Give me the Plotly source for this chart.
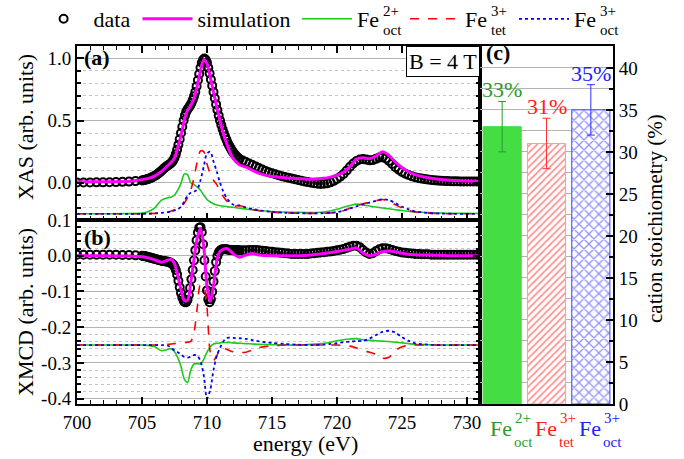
import plotly.graph_objects as go

# ---------------- data ----------------
E_data = [700, 700.5, 701, 701.5, 702, 702.5, 703, 703.5, 704, 704.5,
          705.0, 705.1, 705.2, 705.3, 705.4, 705.5, 705.6, 705.7, 705.8, 705.9,
          706.0, 706.1, 706.2, 706.3, 706.4, 706.5, 706.6, 706.7, 706.8, 706.9,
          707.0, 707.1, 707.2, 707.3, 707.4, 707.5, 707.6, 707.7, 707.8, 707.9,
          708.0, 708.1, 708.2, 708.3, 708.4, 708.5, 708.6, 708.7, 708.8, 708.9,
          709.0, 709.1, 709.2, 709.3, 709.4, 709.5, 709.6, 709.7, 709.8, 709.9,
          710.0, 710.1, 710.2, 710.3, 710.4, 710.5, 710.6, 710.7, 710.8, 710.9,
          711.0, 711.1, 711.2, 711.3, 711.4, 711.5, 711.6, 711.7, 711.8, 711.9,
          712.0, 712.1, 712.2, 712.3, 712.4, 712.5,
          712.75, 713, 713.25, 713.5, 713.75, 714, 714.25, 714.5, 714.75, 715,
          715.25, 715.5, 715.75, 716, 716.25, 716.5, 716.75, 717, 717.25, 717.5,
          717.75, 718, 718.25, 718.5, 718.75, 719, 719.25, 719.5, 719.75, 720,
          720.25, 720.5, 720.75, 721, 721.25, 721.5, 721.75, 722, 722.25, 722.5,
          722.75, 723, 723.25, 723.5, 723.75, 724, 724.25, 724.5, 724.75, 725,
          725.25, 725.5, 725.75, 726, 726.25, 726.5, 726.75, 727, 727.25, 727.5,
          727.75, 728, 728.25, 728.5, 728.75, 729, 729.25, 729.5, 729.75, 730,
          730.25, 730.5, 730.75, 731]

xas_data = [0.002, 0.002, 0.002, 0.003, 0.003, 0.004, 0.005, 0.007, 0.009, 0.013,
            0.018, 0.02, 0.022, 0.025, 0.028, 0.031, 0.035, 0.04, 0.045, 0.05,
            0.056, 0.063, 0.07, 0.078, 0.087, 0.096, 0.106, 0.116, 0.125, 0.133,
            0.14, 0.147, 0.155, 0.165, 0.18, 0.2, 0.23, 0.265, 0.305, 0.35,
            0.4, 0.45, 0.5, 0.54, 0.57, 0.59, 0.605, 0.62, 0.64, 0.665,
            0.695, 0.73, 0.775, 0.825, 0.875, 0.925, 0.965, 0.99, 1.0, 0.99,
            0.965, 0.925, 0.88, 0.83, 0.78, 0.73, 0.68, 0.63, 0.585, 0.54,
            0.5, 0.465, 0.43, 0.4, 0.37, 0.345, 0.32, 0.3, 0.28, 0.262,
            0.246, 0.232, 0.22, 0.209, 0.199, 0.19,
            0.178, 0.166, 0.154, 0.142, 0.13, 0.118, 0.106, 0.095, 0.085, 0.076,
            0.068, 0.06, 0.053, 0.046, 0.04, 0.034, 0.028, 0.022, 0.016, 0.01,
            0.005, 0.0, -0.004, -0.008, -0.01, -0.009, -0.005, 0.003, 0.015, 0.03,
            0.048, 0.07, 0.098, 0.128, 0.155, 0.175, 0.187, 0.19, 0.186, 0.18,
            0.182, 0.192, 0.202, 0.205, 0.195, 0.175, 0.15, 0.125, 0.104, 0.087,
            0.073, 0.062, 0.052, 0.044, 0.038, 0.033, 0.029, 0.025, 0.022, 0.019,
            0.017, 0.015, 0.014, 0.013, 0.012, 0.011, 0.011, 0.01, 0.01, 0.01,
            0.01, 0.01, 0.01, 0.01]

xmcd_data = [0.003, 0.003, 0.003, 0.003, 0.003, 0.003, 0.003, 0.002, 0.002, 0.001,
             0.0, -0.001, -0.001, -0.002, -0.003, -0.004, -0.005, -0.006, -0.007, -0.008,
             -0.009, -0.01, -0.011, -0.012, -0.013, -0.014, -0.015, -0.015, -0.016, -0.016,
             -0.017, -0.018, -0.02, -0.022, -0.025, -0.031, -0.04, -0.053, -0.07, -0.088,
             -0.104, -0.117, -0.126, -0.13, -0.13, -0.124, -0.11, -0.09, -0.066, -0.04,
             -0.013, 0.015, 0.043, 0.065, 0.078, 0.08, 0.066, 0.032, -0.013, -0.058,
             -0.097, -0.122, -0.13, -0.122, -0.101, -0.072, -0.043, -0.018, -0.001, 0.009,
             0.014, 0.017, 0.018, 0.018, 0.018, 0.018, 0.017, 0.017, 0.016, 0.016,
             0.015, 0.015, 0.015, 0.015, 0.015, 0.015,
             0.015, 0.015, 0.016, 0.016, 0.016, 0.015, 0.014, 0.013, 0.012, 0.011,
             0.01, 0.009, 0.008, 0.007, 0.006, 0.005, 0.005, 0.005, 0.005, 0.005,
             0.005, 0.006, 0.007, 0.008, 0.009, 0.01, 0.011, 0.012, 0.013, 0.015,
             0.017, 0.019, 0.022, 0.025, 0.028, 0.028, 0.024, 0.016, 0.009, 0.005,
             0.007, 0.013, 0.018, 0.021, 0.021, 0.019, 0.016, 0.013, 0.011, 0.009,
             0.008, 0.007, 0.006, 0.005, 0.005, 0.004, 0.004, 0.004, 0.003, 0.003,
             0.003, 0.003, 0.003, 0.003, 0.003, 0.003, 0.003, 0.003, 0.003, 0.003,
             0.003, 0.003, 0.003, 0.003]

E_fit = [700, 702, 704, 705, 705.5, 706, 706.5, 707, 707.25, 707.5, 707.75, 708,
         708.25, 708.5, 708.75, 709, 709.25, 709.5, 709.75, 710, 710.25, 710.5,
         710.75, 711, 711.25, 711.5, 711.75, 712, 712.5, 713, 713.5, 714, 715,
         716, 717, 718, 719, 719.5, 720, 720.5, 721, 721.5, 722, 722.5, 723,
         723.5, 724, 724.5, 725, 725.5, 726, 727, 728, 729, 730, 731]

xas_sim = [0.008, 0.008, 0.012, 0.025, 0.035, 0.055, 0.09, 0.14, 0.165, 0.2, 0.28, 0.38,
           0.5, 0.58, 0.62, 0.68, 0.78, 0.9, 0.99, 0.96, 0.85, 0.73,
           0.61, 0.5, 0.4, 0.32, 0.25, 0.195, 0.145, 0.125, 0.1, 0.075, 0.05,
           0.04, 0.033, 0.028, 0.035, 0.045, 0.06, 0.085, 0.13, 0.19, 0.2, 0.193, 0.215,
           0.25, 0.22, 0.165, 0.12, 0.088, 0.065, 0.04, 0.025, 0.018, 0.014, 0.012]

xas_fe2_oct = [0, 0, 0.001, 0.005, 0.018, 0.05, 0.11, 0.13, 0.135, 0.15, 0.19, 0.245,
               0.32, 0.315, 0.25, 0.235, 0.215, 0.19, 0.15, 0.115, 0.095, 0.08,
               0.07, 0.065, 0.062, 0.059, 0.055, 0.052, 0.045, 0.038, 0.032, 0.026, 0.018,
               0.014, 0.011, 0.01, 0.014, 0.022, 0.036, 0.052, 0.067, 0.078, 0.072, 0.062, 0.054,
               0.047, 0.04, 0.033, 0.026, 0.02, 0.015, 0.01, 0.006, 0.004, 0.003, 0.002]

xas_fe3_tet = [0, 0, 0, 0, 0.001, 0.003, 0.007, 0.013, 0.022, 0.03, 0.04, 0.055,
               0.085, 0.13, 0.19, 0.29, 0.42, 0.505, 0.5, 0.4, 0.32, 0.27,
               0.235, 0.19, 0.14, 0.105, 0.075, 0.06, 0.065, 0.05, 0.035, 0.025, 0.013,
               0.007, 0.004, 0.003, 0.004, 0.007, 0.013, 0.025, 0.045, 0.065, 0.08, 0.092, 0.105,
               0.115, 0.1, 0.072, 0.047, 0.028, 0.015, 0.005, 0.001, 0, 0, 0]

xas_fe3_oct = [0, 0, 0, 0, 0.001, 0.003, 0.007, 0.013, 0.02, 0.028, 0.037, 0.057,
               0.1, 0.145, 0.17, 0.178, 0.195, 0.27, 0.38, 0.485, 0.5, 0.42,
               0.34, 0.25, 0.18, 0.13, 0.095, 0.075, 0.067, 0.05, 0.038, 0.028, 0.015,
               0.008, 0.005, 0.004, 0.005, 0.008, 0.014, 0.026, 0.043, 0.06, 0.076, 0.09, 0.104,
               0.117, 0.11, 0.085, 0.057, 0.036, 0.02, 0.007, 0.002, 0, 0, 0]

xmcd_sim = [0.0, 0.0, -0.001, -0.003, -0.006, -0.012, -0.018, -0.012, -0.01, -0.022, -0.055, -0.095,
            -0.125, -0.125, -0.075, -0.01, 0.05, 0.077, 0.025, -0.085, -0.128, -0.085,
            -0.015, 0.012, 0.018, 0.02, 0.015, 0.006, -0.004, 0.002, 0.006, 0.002, 0.0,
            0.0, 0.0, 0.002, 0.006, 0.009, 0.012, 0.015, 0.018, 0.022, 0.008, 0.0, 0.004,
            0.011, 0.013, 0.011, 0.007, 0.004, 0.003, 0.002, 0.001, 0.0, 0.0, 0.0]

xmcd_fe2_oct = [0, 0, 0, 0, -0.001, -0.005, -0.016, -0.012, -0.01, -0.018, -0.035, -0.06,
                -0.095, -0.105, -0.07, -0.053, -0.052, -0.053, -0.04, -0.02, -0.005, 0.003,
                0.005, 0.006, 0.007, 0.007, 0.007, 0.006, 0.005, 0.004, 0.003, 0.002, 0.001,
                0, 0, 0.002, 0.005, 0.008, 0.012, 0.015, 0.017, 0.018, 0.015, 0.013, 0.012,
                0.011, 0.01, 0.008, 0.006, 0.004, 0.002, 0.001, 0, 0, 0, 0]

xmcd_fe3_tet = [0, 0, 0, 0, 0, 0, 0.001, 0.002, 0.003, 0.004, 0.005, 0.006,
                0.007, 0.008, 0.01, 0.035, 0.105, 0.17, 0.165, 0.105, -0.02, -0.043,
                -0.03, -0.012, -0.008, -0.012, -0.016, -0.019, -0.021, -0.02, -0.014, -0.007, -0.002,
                0, 0, 0, 0, 0, 0, -0.001, -0.003, -0.008, -0.016, -0.02, -0.026,
                -0.037, -0.034, -0.015, -0.005, -0.001, 0, 0, 0, 0, 0, 0]

xmcd_fe3_oct = [0, 0, 0, 0, 0, 0, 0, -0.002, -0.008, -0.015, -0.02, -0.027,
                -0.033, -0.035, -0.033, -0.028, -0.03, -0.045, -0.085, -0.15, -0.125, -0.07,
                -0.03, -0.008, 0.01, 0.02, 0.021, 0.02, 0.019, 0.017, 0.014, 0.01, 0.006,
                0.003, 0.001, 0, 0.001, 0.003, 0.005, 0.008, 0.01, 0.011, 0.012, 0.018, 0.028,
                0.037, 0.04, 0.035, 0.022, 0.012, 0.005, 0.001, 0, 0, 0, 0]

COMPONENT_OFFSET = -0.25

cations = ["Fe2+ oct", "Fe3+ tet", "Fe3+ oct"]
cation_base = ["Fe", "Fe", "Fe"]
cation_sup = ["2+", "3+", "3+"]
cation_sub = ["oct", "tet", "oct"]
stoich = [33, 31, 35]
stoich_err = [3, 3, 3]
stoich_text = ["33%", "31%", "35%"]

xas_ticks = [0.0, 0.5, 1.0]
xas_ticktext = ["0.0", "0.5", "1.0"]
xmcd_ticks = [-0.4, -0.3, -0.2, -0.1, 0.0, 0.1]
xmcd_ticktext = ["-0.4", "-0.3", "-0.2", "-0.1", "0.0", "0.1"]

# ---------------- layout geometry ----------------
W, H = 684, 459
ML, MR, MT, MB = 77, 71, 46, 55
PW, PH = W - ML - MR, H - MT - MB
XS = (480 - ML) / PW
YS = (404 - 220) / PH


def px2x(px):
    return (px - ML) / PW


def py2y(py):
    return (H - MB - py) / PH


FONT = "Liberation Serif, Times New Roman, Times, serif"
GREEN, RED, BLUE, MAG = "#1ec81e", "#ff0000", "#0000ff", "#ff00ff"
GRID = "#b4b4b4"
MINOR = "#c4c4c4"

fig = go.Figure()

comp_specs = [
    (xas_fe2_oct, xmcd_fe2_oct, GREEN, "solid", 1.6, "legend3"),
    (xas_fe3_tet, xmcd_fe3_tet, RED, "dash", 1.6, "legend4"),
    (xas_fe3_oct, xmcd_fe3_oct, BLUE, "dot", 1.8, "legend5"),
]

# data
for yv, xa, ya, show in [(xas_data, "x2", "y", True), (xmcd_data, "x", "y2", False)]:
    fig.add_trace(go.Scatter(
        x=E_data, y=yv, xaxis=xa, yaxis=ya, mode="markers", name="data",
        marker=dict(symbol="circle-open", size=8, color="black",
                    line=dict(width=2, color="black")),
        showlegend=show, legend="legend"))

# components
for xas_c, xmcd_c, col, dash, lw, lg in comp_specs:
    for yv, xa, ya, show in [(xas_c, "x2", "y", True), (xmcd_c, "x", "y2", False)]:
        fig.add_trace(go.Scatter(
            x=E_fit, y=[v + COMPONENT_OFFSET for v in yv], xaxis=xa, yaxis=ya,
            mode="lines", name="Fe", line=dict(color=col, width=lw, dash=dash, shape="spline",
                                                smoothing=0.8),
            showlegend=show, legend=lg))

# simulation
for yv, xa, ya, show in [(xas_sim, "x2", "y", True), (xmcd_sim, "x", "y2", False)]:
    fig.add_trace(go.Scatter(
        x=E_fit, y=yv, xaxis=xa, yaxis=ya, mode="lines", name="simulation",
        line=dict(color=MAG, width=3, shape="spline", smoothing=0.8),
        showlegend=show, legend="legend2"))

# bars (panel c)
bar_fill = ["#44dd44", "white", "white"]
bar_fg = ["#44dd44", "#ff2a2a", "#2a2aff"]
bar_line = ["#44dd44", "#ff9a9a", "#4040ff"]
bar_shape = ["", "/", "x"]
bar_psize = [0, 5, 7]
err_col = ["#2a9a2a", "#ff3030", "#3030ff"]
txt_col = ["#2a9a2a", "#ff2020", "#2020ff"]
for i, c in enumerate(cations):
    mk = dict(color=bar_fill[i], line=dict(color=bar_line[i], width=1))
    if bar_shape[i]:
        mk["pattern"] = dict(shape=bar_shape[i], fgcolor=bar_fg[i], bgcolor="white",
                             size=bar_psize[i], solidity=0.35)
    fig.add_trace(go.Bar(
        x=[c], y=[stoich[i]], xaxis="x3", yaxis="y3", width=0.86, marker=mk,
        error_y=dict(type="data", array=[stoich_err[i]], color=err_col[i],
                     thickness=1, width=4),
        showlegend=False))

axis_font = dict(family=FONT, size=19, color="black")
title_font = dict(family=FONT, size=22, color="black")

common_x = dict(range=[700, 731], tickmode="linear", tick0=700, dtick=5, ticks="inside",
                ticklen=7, tickwidth=1.5, tickcolor="black", showline=True, linecolor="black",
                linewidth=2, showgrid=False, zeroline=False,
                minor=dict(tickmode="linear", tick0=700, dtick=1, ticks="inside", ticklen=4,
                           tickwidth=1, tickcolor="black", showgrid=False),
                tickfont=axis_font, domain=[0, XS])

fig.update_layout(
    width=W, height=H, margin=dict(l=ML, r=MR, t=MT, b=MB, autoexpand=False),
    paper_bgcolor="white", plot_bgcolor="white",
    font=dict(family=FONT, size=19, color="black"),
    bargap=0.14,
    xaxis=dict(common_x, anchor="y2", mirror=True),
    xaxis2=dict(common_x, anchor="y", matches="x", showticklabels=False, mirror="allticks"),
    yaxis=dict(domain=[YS, 1], anchor="x2", range=[-0.3, 1.1], tickmode="array",
               tickvals=xas_ticks, ticktext=xas_ticktext, ticks="inside", ticklen=7,
               tickwidth=1.5, tickcolor="black", showline=True, linecolor="black", linewidth=2,
               mirror="allticks", showgrid=True, gridcolor=GRID, gridwidth=1, zeroline=False,
               minor=dict(tickmode="linear", tick0=0, dtick=0.1, ticks="inside", ticklen=4,
                          tickcolor="black", showgrid=True, gridcolor=MINOR, griddash="dot",
                          gridwidth=1),
               tickfont=axis_font),
    yaxis2=dict(domain=[0, YS], anchor="x", range=[-0.415, 0.1], tickmode="array",
                tickvals=xmcd_ticks, ticktext=xmcd_ticktext, ticks="inside", ticklen=7,
                tickwidth=1.5, tickcolor="black", showline=True, linecolor="black", linewidth=2,
                mirror="allticks", showgrid=True, gridcolor=GRID, gridwidth=1, zeroline=False,
                minor=dict(tickmode="linear", tick0=0, dtick=0.02, ticks="inside", ticklen=4,
                           tickcolor="black", showgrid=True, gridcolor=MINOR, griddash="dot",
                           gridwidth=1),
                tickfont=axis_font),
    xaxis3=dict(domain=[XS, 1], anchor="y3", type="category", range=[-0.5, 2.5],
                categoryorder="array", categoryarray=cations,
                showticklabels=False, ticks="", showline=True, linecolor="black",
                linewidth=2, mirror=True, showgrid=False, zeroline=False),
    yaxis3=dict(domain=[0, 1], anchor="x3", side="right", range=[0, 42.6], tickmode="linear",
                tick0=0, dtick=5, ticks="inside", ticklen=7, tickwidth=1.5, tickcolor="black",
                showline=True, linecolor="black", linewidth=2, mirror=True, showgrid=True,
                gridcolor=GRID, gridwidth=1, zeroline=False,
                minor=dict(tickmode="linear", tick0=0, dtick=2.5, ticks="inside", ticklen=4,
                           tickcolor="black", showgrid=True, gridcolor=GRID, gridwidth=1),
                tickfont=axis_font),
)

# legends, one per entry so each can be placed like the original
leg_font = dict(family=FONT, size=22, color="black")
leg_px = {"legend": 33.6, "legend2": 137.5, "legend3": 297, "legend4": 405, "legend5": 514}
for key, px in leg_px.items():
    fig.update_layout({key: dict(x=px / W, y=1 - 19 / H, xref="container", yref="container",
                                 xanchor="left", yanchor="middle",
                                 orientation="h", font=leg_font, bgcolor="rgba(0,0,0,0)",
                                 borderwidth=0, itemwidth=50, tracegroupgap=0)})

annotations = []
# stacked super/subscripts for legend labels
for key, sup, sub in [("legend3", "2+", "oct"), ("legend4", "3+", "tet"), ("legend5", "3+", "oct")]:
    xa = px2x(leg_px[key] + 60 + 24)
    annotations.append(dict(x=xa, y=py2y(11), xref="paper", yref="paper", text=sup,
                            showarrow=False, xanchor="left", yanchor="middle",
                            font=dict(family=FONT, size=15, color="black")))
    annotations.append(dict(x=xa, y=py2y(30), xref="paper", yref="paper", text=sub,
                            showarrow=False, xanchor="left", yanchor="middle",
                            font=dict(family=FONT, size=15, color="black")))

# category labels for panel (c)
for i, c in enumerate(cations):
    annotations.append(dict(x=c, xref="x3", y=py2y(428), yref="paper", text=cation_base[i],
                            showarrow=False, xanchor="right", yanchor="middle", xshift=12,
                            font=dict(family=FONT, size=22, color=txt_col[i])))
    annotations.append(dict(x=c, xref="x3", y=py2y(418), yref="paper", text=cation_sup[i],
                            showarrow=False, xanchor="left", yanchor="middle", xshift=11,
                            font=dict(family=FONT, size=15, color=txt_col[i])))
    annotations.append(dict(x=c, xref="x3", y=py2y(442), yref="paper", text=cation_sub[i],
                            showarrow=False, xanchor="left", yanchor="middle", xshift=10,
                            font=dict(family=FONT, size=15, color=txt_col[i])))
    annotations.append(dict(x=c, xref="x3", y=stoich[i] + stoich_err[i], yref="y3",
                            text=stoich_text[i], showarrow=False, xanchor="center",
                            yanchor="bottom", yshift=-3,
                            font=dict(family=FONT, size=22, color=txt_col[i])))

# axis titles
annotations += [
    dict(x=px2x(305), y=py2y(443), xref="paper", yref="paper", text="energy (eV)",
         showarrow=False, xanchor="center", yanchor="middle", font=title_font),
    dict(x=px2x(25), y=py2y(127), xref="paper", yref="paper", text="XAS (arb. units)",
         showarrow=False, xanchor="center", yanchor="middle", textangle=-90, font=title_font),
    dict(x=px2x(25), y=py2y(312), xref="paper", yref="paper", text="XMCD (arb. units)",
         showarrow=False, xanchor="center", yanchor="middle", textangle=-90, font=title_font),
    dict(x=px2x(655), y=py2y(219), xref="paper", yref="paper",
         text="cation stoichiometry (%)", showarrow=False, xanchor="center",
         yanchor="middle", textangle=-90, font=dict(family=FONT, size=21, color="black")),
]

annotations += [
    dict(x=px2x(82), y=py2y(57), xref="paper", yref="paper", text="<b>(a)</b>",
         showarrow=False, xanchor="left", yanchor="middle",
         font=dict(family=FONT, size=22, color="black")),
    dict(x=px2x(82), y=py2y(237), xref="paper", yref="paper", text="<b>(b)</b>",
         showarrow=False, xanchor="left", yanchor="middle",
         font=dict(family=FONT, size=22, color="black")),
    dict(x=px2x(484), y=py2y(53), xref="paper", yref="paper", text="<b>(c)</b>",
         showarrow=False, xanchor="left", yanchor="middle",
         font=dict(family=FONT, size=22, color="black")),
    dict(x=XS, y=1, xref="paper", yref="paper", text="B = 4 T", showarrow=False,
         xanchor="right", yanchor="top", bordercolor="black", borderwidth=1, borderpad=2,
         bgcolor="white", font=dict(family=FONT, size=22, color="black")),
]
fig.update_layout(annotations=annotations)

fig.write_html("out.html")
